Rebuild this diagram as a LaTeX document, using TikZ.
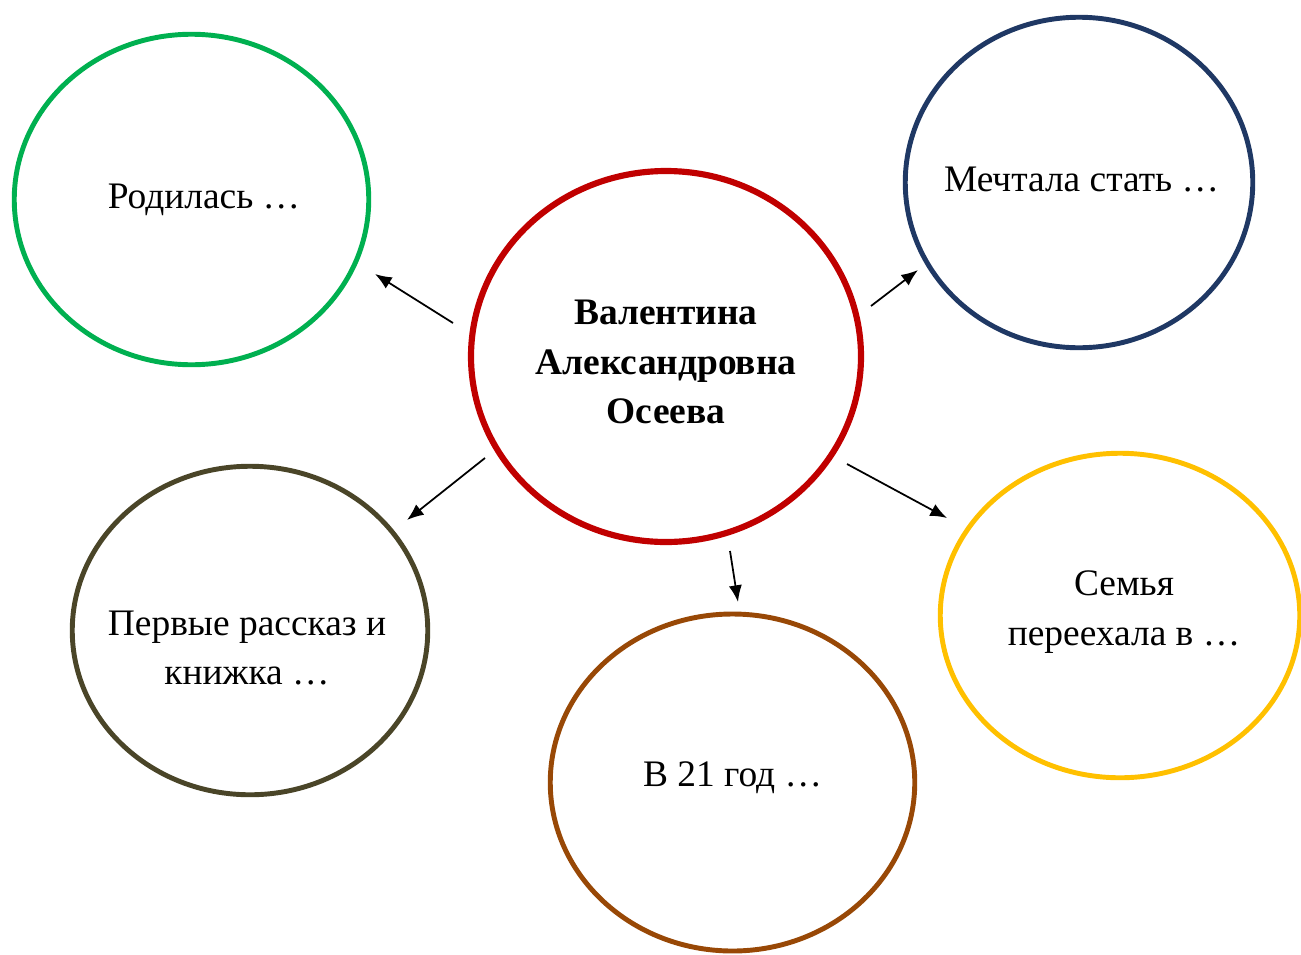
\documentclass[tikz,border=0pt]{standalone}
\usepackage{fontspec}
\setmainfont{Liberation Serif}
\usetikzlibrary{shapes.geometric,arrows.meta}
\definecolor{krug1}{HTML}{00B050}
\definecolor{krug2}{HTML}{C00000}
\definecolor{krug3}{HTML}{1F3864}
\definecolor{krug4}{HTML}{4A4528}
\definecolor{krug5}{HTML}{984806}
\definecolor{krug6}{HTML}{FFC000}
\begin{document}
\begin{tikzpicture}[
  krug/.style = {shape=ellipse, draw, line width=2.8pt, inner sep=0pt},
  tekst/.style = {align=center, font=\fontsize{21.3}{28}\selectfont},
  strelka/.style = {-{Latex[length=9.5pt,width=7.5pt]}, line width=1pt}]
  \useasboundingbox (0,0) rectangle (26.02,-19.08);
  % kruzhki
  \node[krug, draw=krug2, line width=3.5pt, minimum width=7.80cm, minimum height=7.42cm] (osv) at (13.32,-7.13) {};
  \node[krug, draw=krug1, minimum width=7.09cm, minimum height=6.61cm] (rod) at (3.83,-3.99) {};
  \node[krug, draw=krug3, minimum width=6.95cm, minimum height=6.61cm] (mech) at (21.58,-3.65) {};
  \node[krug, draw=krug4, minimum width=7.11cm, minimum height=6.57cm] (perv) at (5.00,-12.61) {};
  \node[krug, draw=krug5, minimum width=7.29cm, minimum height=6.74cm] (god) at (14.65,-15.65) {};
  \node[krug, draw=krug6, minimum width=7.19cm, minimum height=6.49cm] (semya) at (22.40,-12.31) {};
  % teksty
  \node[tekst, font=\fontsize{21.3}{28}\selectfont\bfseries] (osv-t) at ([yshift=-0.11cm]osv) {Валентина\\Александровна\\Осеева};
  \node[tekst] (rod-t) at ([xshift=0.25cm]rod) {Родилась …};
  \node[tekst] (mech-t) at ([xshift=0.05cm,yshift=0.05cm]mech) {Мечтала стать …};
  \node[tekst] (perv-t) at ([xshift=-0.06cm,yshift=-0.35cm]perv) {Первые рассказ и\\книжка …};
  \node[tekst] (god-t) at ([yshift=0.1cm]god) {В 21 год …};
  \node[tekst] (semya-t) at ([xshift=0.08cm,yshift=0.07cm]semya) {Семья\\переехала в …};
  % strelki
  \coordinate (s1) at (9.06,-6.46);   \coordinate (e1) at (7.50,-5.48);
  \coordinate (s2) at (17.42,-6.12);  \coordinate (e2) at (18.36,-5.40);
  \coordinate (s3) at (9.70,-9.16);   \coordinate (e3) at (8.14,-10.40);
  \coordinate (s4) at (14.60,-11.02); \coordinate (e4) at (14.76,-12.04);
  \coordinate (s5) at (16.94,-9.28);  \coordinate (e5) at (18.94,-10.36);
  \foreach \i in {1,...,5}
    \draw[strelka] (s\i) -- (e\i);
\end{tikzpicture}
\end{document}
